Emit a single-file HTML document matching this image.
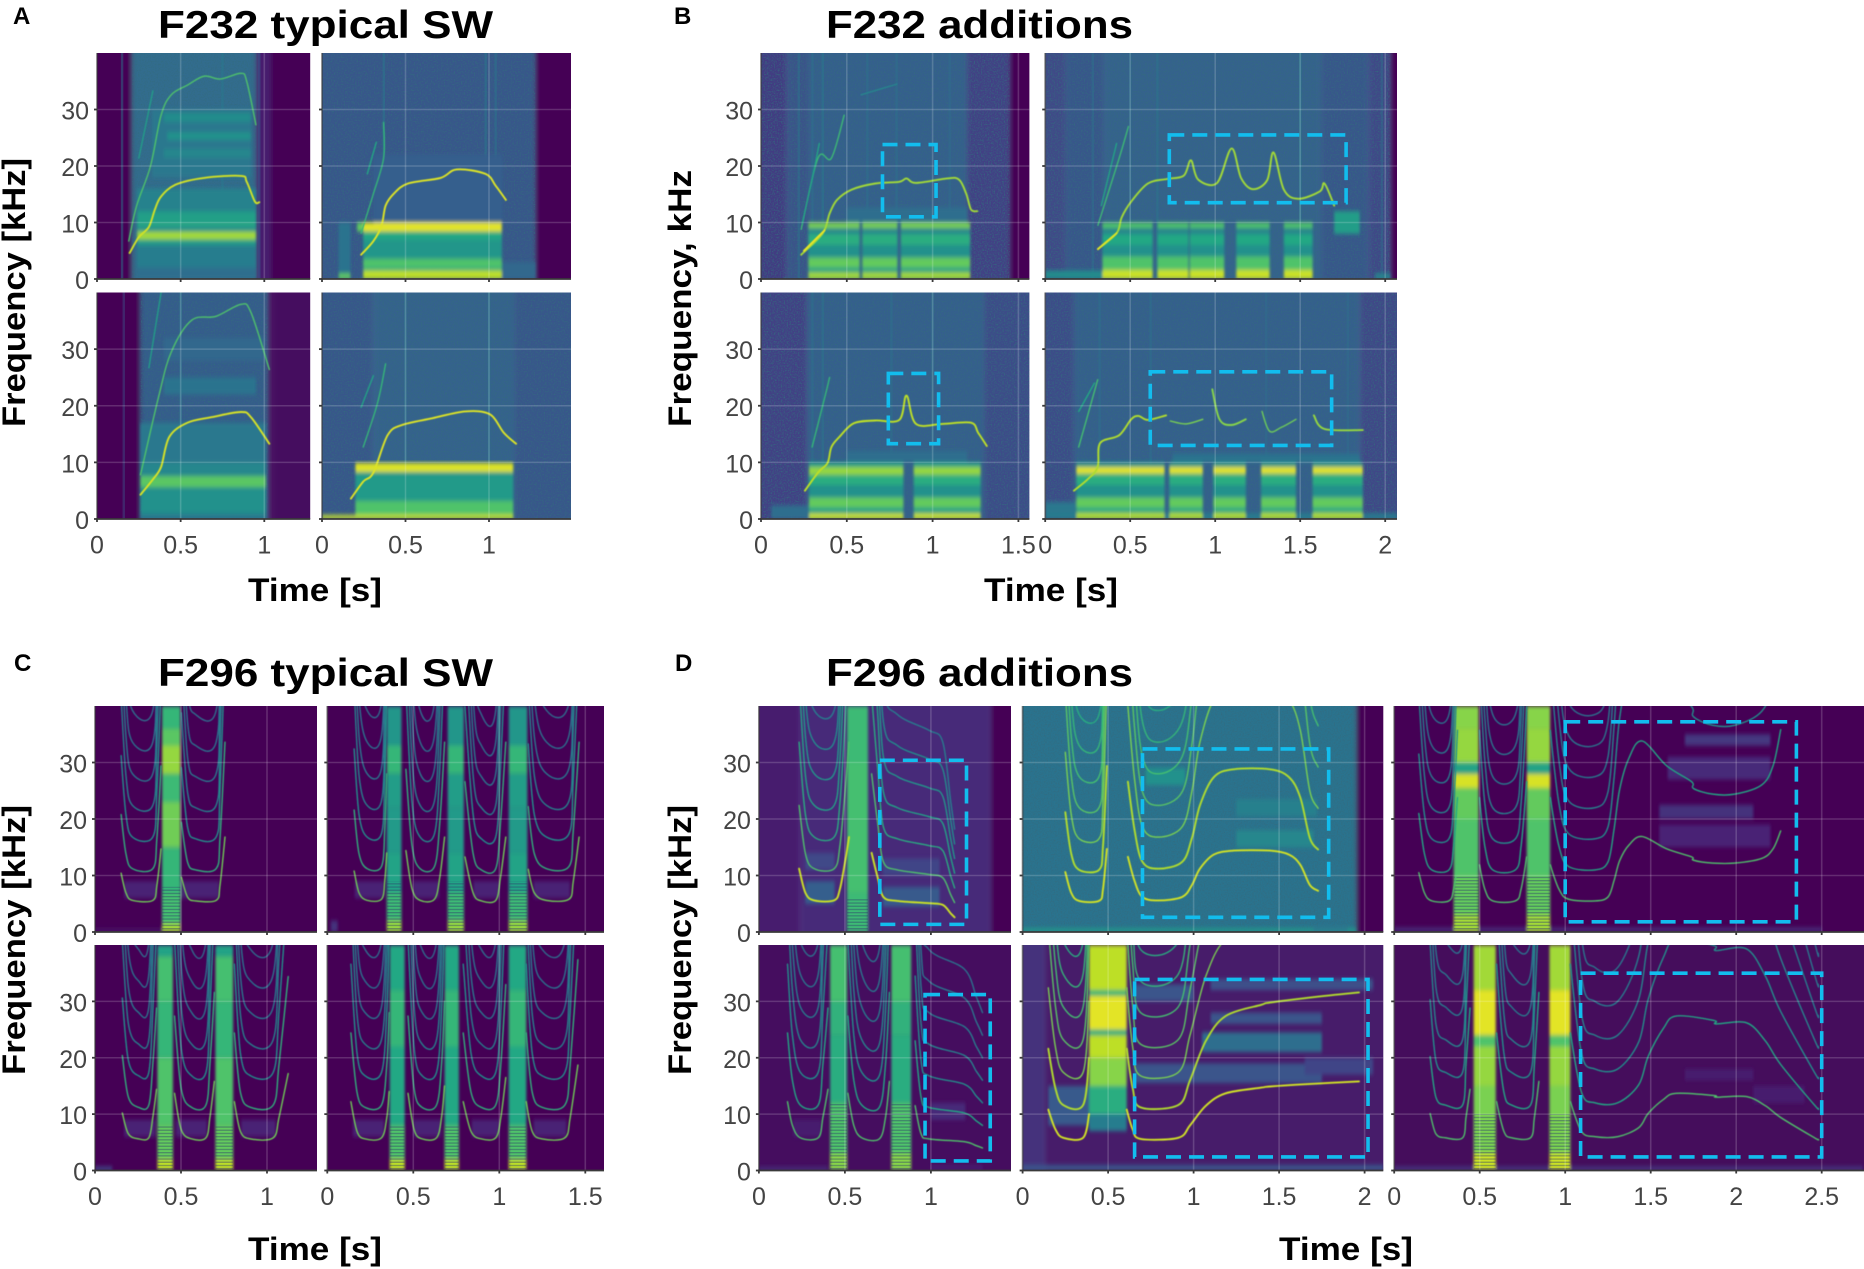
<!DOCTYPE html>
<html lang="en">
<head>
<meta charset="utf-8">
<title>Spectrograms F232 and F296</title>
<style>
html,body{margin:0;padding:0;background:#fff;width:1864px;height:1269px;overflow:hidden}
svg{display:block}
text{font-family:"Liberation Sans",Arial,sans-serif}
.title{font-weight:700;font-size:39px;fill:#000}
.axis-title{font-weight:700;font-size:32px;fill:#000}
.letter{font-weight:700;font-size:24px;fill:#000}
.tick{font-size:25px;fill:#444}
</style>
</head>
<body>
<svg id="figure" xmlns="http://www.w3.org/2000/svg" width="1864" height="1269" viewBox="0 0 1864 1269">
<defs>
<filter id="speckle" x="0" y="0" width="1" height="1" color-interpolation-filters="sRGB">
<feTurbulence type="fractalNoise" baseFrequency="0.7" numOctaves="2" seed="4" result="n"/>
<feColorMatrix in="n" type="matrix" values="0 0 0 0 .2  0 0 0 0 .42  0 0 0 0 .5  2.2 0 0 0 -.95" result="m"/>
<feComposite in="m" in2="SourceAlpha" operator="in"/>
</filter>
<filter id="floorBlur" x="-5%" y="0" width="110%" height="100%"><feGaussianBlur stdDeviation="2.5 0"/></filter>
<filter id="soft" x="-5%" y="-5%" width="110%" height="110%"><feGaussianBlur stdDeviation="1.4 2.2"/></filter>
<filter id="softLine" x="-5%" y="-5%" width="110%" height="110%"><feGaussianBlur stdDeviation="0.45"/></filter>
<pattern id="ripplePattern" patternUnits="userSpaceOnUse" width="8" height="3.2"><rect width="8" height="1.3" fill="#2a3a6a" opacity=".42"/></pattern>
</defs>
<text class="letter" x="13" y="24">A</text>
<text class="letter" x="674" y="24">B</text>
<text class="letter" x="14" y="671">C</text>
<text class="letter" x="675" y="671">D</text>
<text class="title" x="158" y="38" textLength="335" lengthAdjust="spacingAndGlyphs">F232 typical SW</text>
<text class="title" x="826" y="38" textLength="307" lengthAdjust="spacingAndGlyphs">F232 additions</text>
<text class="title" x="158" y="686" textLength="335" lengthAdjust="spacingAndGlyphs">F296 typical SW</text>
<text class="title" x="826" y="686" textLength="307" lengthAdjust="spacingAndGlyphs">F296 additions</text>
<text class="axis-title" x="248" y="601" textLength="134" lengthAdjust="spacingAndGlyphs">Time [s]</text>
<text class="axis-title" x="984" y="601" textLength="134" lengthAdjust="spacingAndGlyphs">Time [s]</text>
<text class="axis-title" x="248" y="1260" textLength="134" lengthAdjust="spacingAndGlyphs">Time [s]</text>
<text class="axis-title" x="1279" y="1260" textLength="134" lengthAdjust="spacingAndGlyphs">Time [s]</text>
<text class="axis-title" transform="translate(25,427) rotate(-90)" textLength="269" lengthAdjust="spacingAndGlyphs">Frequency [kHz]</text>
<text class="axis-title" transform="translate(691,427) rotate(-90)" textLength="257" lengthAdjust="spacingAndGlyphs">Frequency, kHz</text>
<text class="axis-title" transform="translate(25,1075) rotate(-90)" textLength="270" lengthAdjust="spacingAndGlyphs">Frequency [kHz]</text>
<text class="axis-title" transform="translate(691,1075) rotate(-90)" textLength="270" lengthAdjust="spacingAndGlyphs">Frequency [kHz]</text>
<g id="plots"></g>
</svg>
<script>
// Shared axis values
const freqTicks = [0, 10, 20, 30];
const ticksTo1 = [0, 0.5, 1];
const ticksTo15 = [0, 0.5, 1, 1.5];
const ticksTo2 = [0, 0.5, 1, 1.5, 2];
const ticksTo25 = [0, 0.5, 1, 1.5, 2, 2.5];
const panelsWithFreqLabels = ['a1','a3','b1','b3','c1','c3','d1','d4'];
// Colour level of each harmonic (fundamental first)
const dimHarmonics = [0.78, 0.64, 0.5, 0.44, 0.4, 0.38, 0.36];
const midHarmonics = [0.72, 0.6, 0.5, 0.45, 0.42, 0.4, 0.38];
const strongHarmonics = [0.92, 0.72, 0.62, 0.58, 0.52, 0.48, 0.42];
const brightHarmonics = [0.93, 0.88, 0.8, 0.74, 0.7, 0.66, 0.62];

// Each floor row: time start, time end, level. Columns: time start, time end. Profile: kHz low, kHz high, level.
// Patches: time start, time end, kHz low, kHz high, level. Traces: level, then time/kHz pairs. Boxes: t0, t1, f0, f1.
// Streaks: time, level.
const a1Floor = [[0,0.21,0],[0.21,0.95,0.35],[0.95,1.04,0.08],[1.04,1.28,0]];
const a1Columns = [[0.24,0.95]];
const a1Profile = [[0,2,0.36],[2,6,0.42],[6,7,0.55],[7,8.4,0.86],[8.4,9.4,0.5],[9.4,9.9,0.62],[9.9,12,0.56],[12,16,0.44]];
const a1Patches = [[0.33,0.92,18,30,0.4],[0.42,0.92,24.6,26,0.5],[0.4,0.92,21.5,23,0.46],[0.4,0.92,27.8,29.4,0.48]];
const a1Traces = [
 [0.72,[0.19,6.7,0.237,13,0.32,20,0.383,29,0.444,32.6,0.54,34.3,0.64,35.9,0.737,35.4,0.86,36.4,0.895,35,0.95,27.3]],
 [0.93,[0.195,4.6,0.25,7.4,0.31,9.2,0.346,12.3,0.383,14.6,0.47,16.7,0.64,17.9,0.86,18.25,0.895,17.2,0.944,13.7,0.97,13.6]],
 [0.55,[0.25,21.4,0.334,33.3]]];
const a1Streaks = [[0.15,0.4],[0.97,0.3],[0.75,0.42]];
const a2Floor = [[0,1.277,0.27],[1.277,1.49,0]];
const a2Columns = [[0.247,1.077]];
const a2Profile = [[0,1.5,0.9],[1.5,2,0.62],[2,3.6,0.72],[3.6,7,0.52],[7,8.4,0.6],[8.4,10,0.96]];
const a2Patches = [[0.1,0.17,0,10,0.38],[0.1,0.17,0,1,0.75],[0.21,0.26,8.4,10,0.75],[1.08,1.277,0,3,0.33],[0.31,1.08,10,22,0.3]];
const a2Traces = [
 [0.66,[0.234,8.1,0.308,15.1,0.369,21.4,0.369,27.7]],
 [0.6,[0.271,18.6,0.325,24.2]],
 [0.95,[0.234,4.3,0.308,6.7,0.357,9.5,0.381,13,0.43,15.1,0.515,16.9,0.71,17.9,0.808,19.4,0.979,18.6,1.04,16.5,1.101,14]]];
const a2Streaks = [[0.37,0.42],[0.98,0.42],[1.04,0.4]];
const a3Floor = [[0,0.26,0],[0.26,1.02,0.29],[1.02,1.05,0.04],[1.05,1.28,0.03]];
const a3Columns = [[0.26,1.01]];
const a3Profile = [[0,1,0.42],[1,5.6,0.5],[5.6,7.6,0.74],[7.6,10,0.46],[10,17,0.4]];
const a3Patches = [[0.4,0.95,22,25,0.38],[0.4,1,28,32,0.33]];
const a3Traces = [
 [0.72,[0.26,7.8,0.37,21.8,0.444,29.5,0.566,35.1,0.712,35.8,0.859,37.9,0.92,36.5,1.03,26.4]],
 [0.55,[0.31,26.7,0.383,40]],
 [0.94,[0.26,4.3,0.334,7,0.383,9.2,0.432,14.5,0.541,17,0.688,18,0.859,18.9,0.92,18,1.03,13.3]]];
const a3Streaks = [[0.16,0.25],[0.5,0.42]];
const a4Floor = [[0,0.31,0.27],[0.31,1.15,0.31],[1.15,1.49,0.27]];
const a4Columns = [[0.2,1.145]];
const a4Profile = [[0,0.8,0.9],[0.8,3.2,0.72],[3.2,8.3,0.54],[8.3,9.9,0.95]];
const a4Patches = [[0,1.145,0,0.7,0.92]];
const a4Traces = [
 [0.66,[0.247,12.7,0.332,20.4,0.381,27.4]],
 [0.58,[0.234,19.7,0.308,25.3]],
 [0.95,[0.173,3.6,0.247,6.6,0.308,8.2,0.393,14.8,0.479,16.6,0.662,17.8,0.857,19,1.004,18.5,1.089,15.2,1.162,13.3]]];
const a4Streaks = [[0.5,0.42],[1,0.42]];

const b1Floor = [[0,0.15,0.17],[0.15,0.28,0.25],[0.28,1.2,0.3],[1.2,1.45,0.19],[1.45,1.57,0]];
const b1Columns = [[0.276,0.575],[0.59,0.795],[0.815,1.219]];
const b1Profile = [[0,1.2,0.86],[1.2,2,0.58],[2,3.8,0.76],[3.8,6,0.5],[6,8,0.62],[8,9,0.46],[9,10,0.8]];
const b1Patches = [[0.5,1.2,10,12.6,0.36]];
const b1Traces = [
 [0.68,[0.234,8.8,0.332,21.4,0.41,21.4,0.485,29]],
 [0.58,[0.24,9.8,0.3,18,0.34,24]],
 [0.45,[0.583,32.6,0.792,34.5]],
 [0.86,[0.234,4.3,0.36,8.1,0.4,11.6,0.443,14,0.527,15.8,0.666,16.9,0.806,17.2,0.848,17.8,0.903,17,1.085,17.8,1.154,17.6,1.196,15.1,1.224,12.3,1.26,12]],
 [0.97,[0.25,5,0.37,8.6]]];
const b1Boxes = [[0.708,1.02,11,23.8]];
const b1Streaks = [[0.22,0.4],[0.3,0.38],[0.36,0.42],[0.62,0.38],[0.79,0.38],[1.1,0.36]];
const b2Floor = [[0,0.12,0.22],[0.12,0.35,0.27],[0.35,1.62,0.31],[1.62,1.9,0.27],[1.9,2.03,0.21],[2.03,2.07,0]];
const b2Columns = [[0.337,0.632],[0.66,0.843],[0.85,1.053],[1.124,1.32],[1.404,1.573]];
const b2Profile = [[0,1.6,0.92],[1.6,4,0.72],[4,6,0.5],[6,8,0.6],[8,9,0.44],[9,10,0.72]];
const b2Patches = [[0,0.35,0,1.5,0.48],[1.7,1.85,8,12,0.55],[1.94,2.03,0,1,0.45]];
const b2Traces = [
 [0.68,[0.31,9.5,0.435,21.4,0.49,27]],
 [0.58,[0.33,13,0.42,24]],
 [0.86,[0.31,5.3,0.42,8.1,0.45,10.9,0.506,13.7,0.604,16.9,0.716,17.7,0.815,18.3,0.857,21,0.9,17.6,1.011,17,1.096,23.1,1.152,17.9,1.222,15.9,1.306,17.5,1.343,22.4,1.404,15.8,1.489,14.2,1.615,15.5,1.643,16.9,1.7,13]],
 [0.95,[0.31,5.3,0.42,8.1]]];
const b2Boxes = [[0.73,1.77,13.5,25.5]];
const b2Streaks = [[0.28,0.38],[0.5,0.38],[0.66,0.4],[1.5,0.44],[1.98,0.36]];
const b3Floor = [[0,0.27,0.19],[0.27,1.3,0.3],[1.3,1.57,0.23]];
const b3Columns = [[0.28,0.83],[0.89,1.28]];
const b3Profile = [[0,1,0.92],[1,2,0.58],[2,3.8,0.76],[3.8,6,0.5],[6,7.8,0.62],[7.8,9.2,0.84],[9.2,10,0.56]];
const b3Patches = [[0.06,0.28,0,2.4,0.36],[0.5,1.2,10,12,0.36]];
const b3Traces = [
 [0.66,[0.298,12.7,0.374,21.8,0.4,25]],
 [0.9,[0.256,5,0.332,8.2,0.388,9.9,0.41,12.7,0.457,14.5,0.541,16.9,0.666,17.4,0.806,17.5,0.848,21.8,0.903,16.8,1.057,16.8,1.224,17,1.266,15.2,1.316,12.9]]];
const b3Boxes = [[0.742,1.035,13.3,25.7]];
const b3Streaks = [[0.3,0.38],[0.36,0.4],[0.76,0.38],[1,0.4]];
const b4Floor = [[0,0.17,0.23],[0.17,1.85,0.3],[1.85,2.07,0.21]];
const b4Columns = [[0.183,0.702],[0.73,0.927],[0.989,1.18],[1.27,1.475],[1.573,1.868]];
const b4Profile = [[0,1.1,0.88],[1.1,2,0.6],[2,3.8,0.76],[3.8,6,0.5],[6,8,0.62],[8,9.2,0.96],[9.2,10,0.52]];
const b4Patches = [[0,0.18,1,3,0.4],[0,2.07,0,1,0.42],[0.75,1.85,10,11.5,0.38]];
const b4Traces = [
 [0.7,[0.197,12.7,0.309,24.6]],
 [0.6,[0.197,19,0.29,24]],
 [0.88,[0.169,5,0.253,7.1,0.309,9.2,0.323,13.4,0.435,14.8,0.506,17.6,0.548,18.2,0.604,17.5,0.711,18.3]],
 [0.8,[0.736,17.3,0.829,16.8,0.927,17.6]],
 [0.82,[0.983,22.9,1.025,17.6,1.096,16.6,1.18,17.6]],
 [0.78,[1.275,19,1.32,15.5,1.39,16.2,1.475,17.6]],
 [0.84,[1.58,18.3,1.643,15.9,1.868,15.7]]];
const b4Boxes = [[0.618,1.685,13,26]];
const b4Streaks = [[0.32,0.38],[0.62,0.38],[1.3,0.36],[1.78,0.36]];

const c1Floor = [[0,1.3,0]];
const c1Columns = [[0.39,0.497]];
const c1Profile = [[0,1.5,0.86],[1.5,7,0.7],[7,15,0.66],[15,23,0.78],[23,28,0.68],[28,33,0.84],[33,36,0.74],[36,40,0.66]];
const c1Patches = [[0.17,0.36,6,9,0.1],[0.5,0.72,6,9,0.1],[0,0.4,0,0.5,0.08]];
const c1Syllables = [
 [0.152,10.4,0.18,6.9,0.218,5.6,0.336,5.6,0.36,8.3,0.384,14.7],
 [0.502,9.7,0.538,6.2,0.585,5.5,0.704,5.6,0.727,8.3,0.756,16.8]];
const c2Floor = [[0,1.61,0]];
const c2Columns = [[0.346,0.431],[0.7,0.794],[1.055,1.163]];
const c2Profile = [[0,2,0.84],[2,7,0.68],[7,14,0.58],[14,22,0.54],[22,28,0.55],[28,33,0.66],[33,40,0.52]];
const c2Patches = [[0.16,0.33,6,9,0.1],[0.5,0.65,6,9,0.1],[0.85,1,6,9,0.1],[1.2,1.41,6,9,0.1],[0.02,0.06,0,2,0.14]];
const c2Syllables = [
 [0.156,10.8,0.185,6.9,0.232,5.6,0.315,5.8,0.334,9,0.346,14],
 [0.457,14.4,0.493,7.6,0.54,5.6,0.623,5.8,0.654,9.7,0.682,16.8],
 [0.8,13.3,0.848,6.9,0.896,5.5,0.979,5.6,1.007,9.7,1.038,16.8],
 [1.168,11.1,1.204,6.9,1.275,5.6,1.405,5.8,1.43,9,1.464,16.8]];
const c3Floor = [[0,1.3,0]];
const c3Columns = [[0.363,0.453],[0.7,0.803]];
const c3Profile = [[0,2,0.9],[2,8,0.76],[8,20,0.72],[20,30,0.66],[30,38,0.7],[38,40,0.58]];
const c3Patches = [[0.17,0.35,6,9,0.1],[0.47,0.65,6,9,0.1],[0.85,1.05,6,9,0.1],[0,0.1,0,0.7,0.22]];
const c3Syllables = [
 [0.159,10.2,0.194,6.5,0.254,5.6,0.313,5.8,0.336,9.4,0.358,14.4],
 [0.462,13.7,0.502,7.2,0.562,5.6,0.645,5.8,0.668,9.4,0.694,15.8],
 [0.81,12.2,0.846,6.9,0.905,5.6,1.036,5.8,1.07,9.4,1.123,17.2]];
const c4Floor = [[0,1.61,0]];
const c4Columns = [[0.363,0.45],[0.682,0.765],[1.055,1.157]];
const c4Profile = [[0,2,0.9],[2,8,0.72],[8,22,0.6],[22,32,0.66],[32,40,0.6]];
const c4Patches = [[0.15,0.33,6,9,0.1],[0.5,0.66,6,9,0.1],[0.84,1,6,9,0.1],[1.2,1.39,6,9,0.1]];
const c4Syllables = [
 [0.137,12.2,0.173,6.9,0.22,5.6,0.315,5.8,0.346,9.4,0.36,14],
 [0.469,13.7,0.505,7.2,0.552,5.6,0.635,5.8,0.664,9.4,0.682,15],
 [0.79,12.2,0.836,6.9,0.896,5.6,0.979,5.8,1.009,9.4,1.038,16.5],
 [1.156,12.2,1.192,6.9,1.25,5.6,1.381,5.8,1.412,9.4,1.457,18.7]];

const d1Floor = [[0,0.24,0.08],[0.24,1.35,0.12],[1.35,1.47,0]];
const d1Columns = [[0.513,0.634]];
const d1Profile = [[0,7,0.68],[7,30,0.7],[30,40,0.68]];
const d1Patches = [[0.27,0.44,5,9,0.3],[0.72,1.05,4.5,8,0.28],[0.72,1.05,10,13,0.2],[0.27,0.44,11,14,0.22]];
const d1Syllables = [
 [0.234,11.2,0.271,6.9,0.322,5.6,0.437,5.6,0.471,7.6,0.506,13.3,0.524,16.8],
 [0.655,14,0.69,9.7,0.724,6.2,0.805,5.5,0.989,5.1,1.069,4.8,1.115,3.3,1.138,2.6]];
const d1Boxes = [[0.703,1.207,1.35,30.4]];
const d2Floor = [[0,1.95,0.38],[1.95,2.11,0]];
const d2Patches = [[0,1.95,0,0.7,0.52],[1.25,1.7,15,18,0.46],[1.25,1.72,20.5,23.5,0.43],[0.72,0.95,26,29,0.5],[1.7,1.9,0.2,1,0.4]];
const d2Syllables = [
 [0.25,10.6,0.285,6.9,0.331,5.5,0.447,5.5,0.47,7.6,0.493,14.7],
 [0.616,13.3,0.655,9,0.701,6.2,0.794,5.6,0.933,6.2,0.99,8.3,1.037,11.2,1.118,13.7,1.234,14.4,1.447,14.4,1.558,13.7,1.624,11.9,1.68,8.3,1.728,7.3]];
const d2Boxes = [[0.701,1.79,2.6,32.4]];
const d3Floor = [[0,2.74,0]];
const d3Columns = [[0.348,0.494],[0.775,0.912]];
const d3Profile = [[0,3,0.86],[3,10,0.76],[10,20,0.72],[20,25.5,0.76],[25.5,28,0.94],[28,30,0.58],[30,36,0.84],[36,40,0.82]];
const d3Patches = [[0,2.5,0,0.8,0.12],[1.55,2.2,15,19,0.1],[1.55,2.1,20,22.5,0.14],[1.6,2.2,27,31,0.12],[1.7,2.2,33,35,0.16]];
const d3Syllables = [
 [0.144,10.5,0.177,6.9,0.22,5.5,0.32,5.5,0.348,7.6,0.37,11.9],
 [0.498,11.9,0.53,7.6,0.576,5.5,0.709,5.5,0.742,7.6,0.775,13.3],
 [0.912,11.9,0.963,7.6,1.02,5.8,1.174,5.5,1.25,6.2,1.285,9,1.318,12.6,1.373,15.4,1.45,16.9,1.594,14.7,1.739,13.3,1.75,12.7,1.86,12.2,1.993,12.2,2.148,13,2.215,14.7,2.26,17.9]];
const d3Boxes = [[1,2.352,1.8,37.2]];
const d4Floor = [[0,1.47,0.03]];
const d4Columns = [[0.414,0.513],[0.77,0.885]];
const d4Profile = [[0,3,0.82],[3,12,0.72],[12,24,0.62],[24,30,0.64],[30,40,0.7]];
const d4Patches = [[0.2,0.36,6,9,0.08],[1,1.2,9,12,0.12],[1,1.3,0,1,0.08],[0,0.4,0,0.6,0.14]];
const d4Syllables = [
 [0.166,12.2,0.195,8,0.241,5.8,0.345,5.8,0.372,9.4,0.402,14.4],
 [0.517,13.7,0.552,8,0.598,5.8,0.7,5.6,0.736,9.4,0.759,15.8],
 [0.908,11.5,0.943,6.5,0.989,5.6,1.195,5.1,1.264,4.4,1.3,4]];
const d4Boxes = [[0.966,1.345,1.7,31.2]];
const d5Floor = [[0,0.13,0.14],[0.13,2.11,0.07]];
const d5Columns = [[0.389,0.609]];
const d5Profile = [[7,10,0.42],[10,15,0.62],[15,20,0.82],[20,24,0.9],[24,25,0.62],[25,31,0.96],[31,32,0.66],[32,40,0.9]];
const d5Patches = [[0,2.11,0,1,0.26],[0.15,0.39,8,15,0.28],[0.65,1.75,15.5,19,0.26],[1.05,1.75,21,24.5,0.36],[1.1,1.75,26,28,0.26],[0.65,1,30,33,0.26],[1.1,2.05,32,34,0.24],[1.65,2.05,17,20,0.2]];
const d5Syllables = [
 [0.15,10.8,0.192,7.3,0.238,5.8,0.354,5.8,0.389,10],
 [0.609,10.8,0.644,7.3,0.69,5.6,0.91,5.8,0.979,8,1.072,11.5,1.188,13.7,1.396,14.7,1.447,14.9,1.712,15.4,1.967,15.8]];
const d5Boxes = [[0.655,2.02,2.4,33.9]];
const d6Floor = [[0,2.74,0.02]];
const d6Columns = [[0.465,0.594],[0.908,1.03]];
const d6Profile = [[0,3,0.92],[3,15,0.8],[15,22,0.84],[22,24,0.72],[24,32,0.96],[32,40,0.86]];
const d6Patches = [[0,2.74,0,0.7,0.16],[1.7,2.1,16,18,0.08],[2.1,2.4,12,15,0.08]];
const d6Syllables = [
 [0.21,10.1,0.244,6.5,0.3,5.8,0.4,5.8,0.42,9.4,0.443,14.4],
 [0.598,12.2,0.642,6.9,0.687,5.8,0.797,5.8,0.82,9.4,0.846,15.8],
 [1.03,12.2,1.096,6.9,1.174,6,1.307,6,1.43,7.6,1.485,10.1,1.574,12.6,1.65,13.7,1.871,13.3,1.882,13,2.06,13.1,2.17,11.5,2.26,9.4,2.458,5.8,2.48,5.5]];
const d6Boxes = [[1.09,2.5,2.4,35]];

const viridisStops = ['#440154','#482475','#414487','#355f8d','#2a788e','#21918c','#22a884','#44bf70','#7ad151','#bddf26','#fde725'];
function viridis(level){
  const v=Math.max(0,Math.min(1,level))*10, i=Math.min(9,Math.floor(v)), u=v-i;
  const rgb=s=>[1,3,5].map(k=>parseInt(s.substr(k,2),16));
  const a=rgb(viridisStops[i]), b=rgb(viridisStops[i+1]);
  return 'rgb('+a.map((c,k)=>Math.round(c+(b[k]-c)*u)).join(',')+')';
}

const panels = [
 {key:'a1',left:97,right:310.2,top:53,bottom:279,pps:167.3,ticks:ticksTo1,labels:false,floor:a1Floor,columns:a1Columns,profile:a1Profile,patches:a1Patches,traces:a1Traces,streaks:a1Streaks},
 {key:'a2',left:322,right:571,top:53,bottom:279,pps:167,ticks:ticksTo1,labels:false,floor:a2Floor,columns:a2Columns,profile:a2Profile,patches:a2Patches,traces:a2Traces,streaks:a2Streaks},
 {key:'a3',left:97,right:310.2,top:292.5,bottom:519,pps:167.3,ticks:ticksTo1,labels:true,floor:a3Floor,columns:a3Columns,profile:a3Profile,patches:a3Patches,traces:a3Traces,streaks:a3Streaks},
 {key:'a4',left:322,right:571,top:292.5,bottom:519,pps:167,ticks:ticksTo1,labels:true,floor:a4Floor,columns:a4Columns,profile:a4Profile,patches:a4Patches,traces:a4Traces,streaks:a4Streaks},
 {key:'b1',left:761,right:1029.4,top:53,bottom:279,pps:171.6,ticks:ticksTo15,labels:false,floor:b1Floor,columns:b1Columns,profile:b1Profile,patches:b1Patches,traces:b1Traces,boxes:b1Boxes,streaks:b1Streaks},
 {key:'b2',left:1045.2,right:1397,top:53,bottom:279,pps:170,ticks:ticksTo2,labels:false,floor:b2Floor,columns:b2Columns,profile:b2Profile,patches:b2Patches,traces:b2Traces,boxes:b2Boxes,streaks:b2Streaks},
 {key:'b3',left:761,right:1029.4,top:292.5,bottom:519,pps:171.6,ticks:ticksTo15,labels:true,floor:b3Floor,columns:b3Columns,profile:b3Profile,patches:b3Patches,traces:b3Traces,boxes:b3Boxes,streaks:b3Streaks},
 {key:'b4',left:1045.2,right:1397,top:292.5,bottom:519,pps:170,ticks:ticksTo2,labels:true,floor:b4Floor,columns:b4Columns,profile:b4Profile,patches:b4Patches,traces:b4Traces,boxes:b4Boxes,streaks:b4Streaks},
 {key:'c1',left:95,right:317,top:706,bottom:932,pps:172,ticks:ticksTo1,labels:false,floor:c1Floor,columns:c1Columns,profile:c1Profile,patches:c1Patches,syllables:c1Syllables,harmonics:dimHarmonics,ripple:8},
 {key:'c2',left:327.3,right:604,top:706,bottom:932,pps:172,ticks:ticksTo15,labels:false,floor:c2Floor,columns:c2Columns,profile:c2Profile,patches:c2Patches,syllables:c2Syllables,harmonics:dimHarmonics,ripple:9},
 {key:'c3',left:95,right:317,top:945,bottom:1170.5,pps:172,ticks:ticksTo1,labels:true,floor:c3Floor,columns:c3Columns,profile:c3Profile,patches:c3Patches,syllables:c3Syllables,harmonics:dimHarmonics,ripple:8},
 {key:'c4',left:327.3,right:604,top:945,bottom:1170.5,pps:172,ticks:ticksTo15,labels:true,floor:c4Floor,columns:c4Columns,profile:c4Profile,patches:c4Patches,syllables:c4Syllables,harmonics:dimHarmonics,ripple:8},
 {key:'d1',left:758.9,right:1011,top:706,bottom:932,pps:172,ticks:ticksTo1,labels:false,floor:d1Floor,columns:d1Columns,profile:d1Profile,patches:d1Patches,syllables:d1Syllables,harmonics:strongHarmonics,boxes:d1Boxes,ripple:6},
 {key:'d2',left:1022.6,right:1383.3,top:706,bottom:932,pps:171,ticks:ticksTo2,labels:false,floor:d2Floor,columns:[],profile:[],patches:d2Patches,syllables:d2Syllables,harmonics:brightHarmonics,boxes:d2Boxes},
 {key:'d3',left:1394.2,right:1864,top:706,bottom:932,pps:171,ticks:ticksTo25,labels:false,floor:d3Floor,columns:d3Columns,profile:d3Profile,patches:d3Patches,syllables:d3Syllables,harmonics:midHarmonics,boxes:d3Boxes,ripple:10},
 {key:'d4',left:758.9,right:1011,top:945,bottom:1170.5,pps:172,ticks:ticksTo1,labels:true,floor:d4Floor,columns:d4Columns,profile:d4Profile,patches:d4Patches,syllables:d4Syllables,harmonics:midHarmonics,boxes:d4Boxes,ripple:12},
 {key:'d5',left:1022.6,right:1383.3,top:945,bottom:1170.5,pps:171,ticks:ticksTo2,labels:true,floor:d5Floor,columns:d5Columns,profile:d5Profile,patches:d5Patches,syllables:d5Syllables,harmonics:brightHarmonics,boxes:d5Boxes},
 {key:'d6',left:1394.2,right:1864,top:945,bottom:1170.5,pps:171,ticks:ticksTo25,labels:true,floor:d6Floor,columns:d6Columns,profile:d6Profile,patches:d6Patches,syllables:d6Syllables,harmonics:midHarmonics,boxes:d6Boxes,ripple:10}
];

const NS='http://www.w3.org/2000/svg';
function make(tag,parent,attrs){
  const e=document.createElementNS(NS,tag);
  for(const k in attrs) e.setAttribute(k,attrs[k]);
  parent.appendChild(e);
  return e;
}
// Smooth open curve through the picked points, clipped by the panel
function curvePath(pts){
  let d='M'+pts[0][0].toFixed(1)+' '+pts[0][1].toFixed(1);
  for(let i=0;i<pts.length-1;i++){
    const p0=pts[Math.max(0,i-1)],p1=pts[i],p2=pts[i+1],p3=pts[Math.min(pts.length-1,i+2)];
    const c1=[p1[0]+(p2[0]-p0[0])/6,p1[1]+(p2[1]-p0[1])/6],c2=[p2[0]-(p3[0]-p1[0])/6,p2[1]-(p3[1]-p1[1])/6];
    d+='C'+c1[0].toFixed(1)+' '+c1[1].toFixed(1)+' '+c2[0].toFixed(1)+' '+c2[1].toFixed(1)+' '+p2[0].toFixed(1)+' '+p2[1].toFixed(1);
  }
  return d;
}
const root=document.getElementById('plots');
const defs=document.querySelector('defs');
panels.forEach(function(p){
  const xAxis=t=>p.left+t*p.pps;
  const yAxis=f=>p.bottom-(f/40)*(p.bottom-p.top);
  const timeRect=(g,t0,t1,f0,f1,level)=>{
    const r=make('rect',g,{x:xAxis(t0),width:Math.max(0,(t1-t0)*p.pps),y:yAxis(Math.max(f0,f1)),height:Math.abs(yAxis(f0)-yAxis(f1)),fill:viridis(level)});
    return r;
  };
  const clip=make('clipPath',defs,{id:'clip-'+p.key});
  make('rect',clip,{x:p.left,y:p.top,width:p.right-p.left,height:p.bottom-p.top});
  const panel=make('g',root,{});
  
  
  const plot=make('g',panel,{'clip-path':'url(#clip-'+p.key+')'});
  
  
  const floors=make('g',plot,{filter:'url(#floorBlur)'});
  
  
  p.floor.forEach(function(row,i){
    const overLeft=i===0?0.1:0, overRight=i===p.floor.length-1?0.3:0;
    const r=timeRect(floors,row[0]-overLeft,row[1]+overRight,0,40,row[2]);
    
    
  });
  p.floor.forEach(function(row){
    if(row[2]>0.15){
      const g=timeRect(plot,row[0],row[1],0,40,row[2]);
      
      
      g.setAttribute('filter','url(#speckle)');
    }
  });
  (p.streaks||[]).forEach(function(s){
    const l=make('line',plot,{x1:xAxis(s[0]),x2:xAxis(s[0]),y1:p.top,y2:p.bottom,stroke:viridis(s[1]),'stroke-width':2.4,'stroke-opacity':0.45});
    
    
  });
  const soft=make('g',plot,{filter:'url(#soft)'});
  
  
  (p.patches||[]).forEach(function(row){
    const r=timeRect(soft,row[0],row[1],row[2],row[3],row[4]);
    
    
  });
  p.columns.forEach(function(col){
    p.profile.forEach(function(row){
      const r=timeRect(soft,col[0],col[1],row[0],row[1],row[2]);
      
      
    });
  });
  if(p.ripple){
    p.columns.forEach(function(col){
      const r=make('rect',plot,{x:xAxis(col[0]),width:(col[1]-col[0])*p.pps,y:yAxis(p.ripple),height:yAxis(0)-yAxis(p.ripple),fill:'url(#ripplePattern)'});
      
      
    });
  }
  const lines=make('g',plot,{filter:'url(#softLine)',fill:'none','stroke-linecap':'round','stroke-linejoin':'round'});
  
  
  const drawCurve=function(flat,level,mult){
    const pts=[];
    for(let i=0;i<flat.length;i+=2) pts.push([xAxis(flat[i]),yAxis(flat[i+1]*mult)]);
    const path=make('path',lines,{d:curvePath(pts),stroke:viridis(level),'stroke-width':level>0.8?1.9:1.35});
    return path;
  };
  (p.traces||[]).forEach(function(tr){
    const path=drawCurve(tr[1],tr[0],1);
    
    
  });
  (p.syllables||[]).forEach(function(syl){
    p.harmonics.forEach(function(level,k){
      const path=drawCurve(syl,level,k+1);
      
      
    });
  });
  // Gridlines
  const grid=make('g',plot,{stroke:'#ffffff','stroke-opacity':0.17,'stroke-width':1.6});
  
  
  freqTicks.slice(1).forEach(function(f){
    const l=make('line',grid,{x1:p.left,x2:p.right,y1:yAxis(f),y2:yAxis(f)});
    
    
  });
  p.ticks.slice(1).forEach(function(t){
    const l=make('line',grid,{x1:xAxis(t),x2:xAxis(t),y1:p.top,y2:p.bottom});
    
    
  });
  (p.boxes||[]).forEach(function(b){
    const r=make('rect',plot,{x:xAxis(b[0]),width:(b[1]-b[0])*p.pps,y:yAxis(b[3]),height:yAxis(b[2])-yAxis(b[3]),fill:'none',stroke:'#12bdee','stroke-width':3.6,'stroke-dasharray':'15 8'});
    
    
  });
  // Axes
  const axes=make('g',panel,{stroke:'#3a3a3a','stroke-width':1.8});
  
  
  const xLine=make('line',axes,{x1:p.left-1,x2:p.right,y1:p.bottom,y2:p.bottom});
  
  
  const yLine=make('line',axes,{x1:p.left,x2:p.left,y1:p.top,y2:p.bottom,'stroke-opacity':0.6});
  
  
  p.ticks.forEach(function(t){
    const m=make('line',axes,{x1:xAxis(t),x2:xAxis(t),y1:p.bottom,y2:p.bottom+3});
    
    
    if(p.labels){
      const tx=make('text',panel,{x:xAxis(t),y:p.bottom+34.5,'text-anchor':'middle',class:'tick'});
      
      
      tx.textContent=String(t);
    }
  });
  freqTicks.forEach(function(f){
    const m=make('line',axes,{x1:p.left-3,x2:p.left,y1:yAxis(f),y2:yAxis(f)});
    
    
    if(panelsWithFreqLabels.includes(p.key)){
      const tx=make('text',panel,{x:p.left-8,y:yAxis(f)+10,'text-anchor':'end',class:'tick'});
      
      
      tx.textContent=String(f);
    }
  });
});
</script>
</body>
</html>
